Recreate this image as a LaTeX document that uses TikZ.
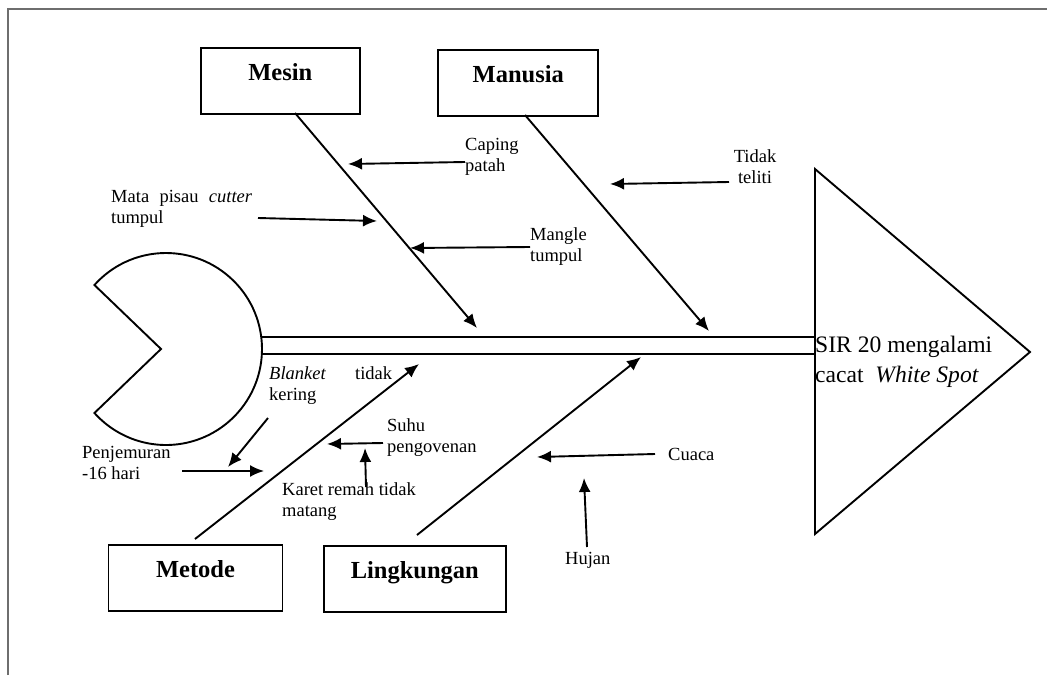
\documentclass[tikz,border=0pt]{standalone}
\usepackage{fontspec}
\setmainfont{Liberation Serif}
\usetikzlibrary{arrows.meta}
\begin{document}
\begin{tikzpicture}[x=1pt,y=-1pt,
  frameline/.style={line width=1.3pt,draw={rgb,255:red,110;green,110;blue,110}},
  bone/.style={line width=1.9pt},
  bonearrow/.style={line width=1.9pt,-{Latex[length=14pt,width=12pt]}},
  causearrow/.style={line width=1.9pt,-{Latex[length=14pt,width=12pt]}},
  catbox/.style={draw,line width=1.9pt,inner sep=0pt,minimum width=#1,
    text height=32.5pt,text depth=33.5pt,anchor=north,
    font=\fontsize{24.5}{28}\selectfont\bfseries},
  lbl/.style={inner sep=0pt,anchor=base west,align=left,
    font=\fontsize{18.5}{21.5}\selectfont},
  lblc/.style={inner sep=0pt,anchor=base,align=center,
    font=\fontsize{18.5}{21.5}\selectfont},
  headtxt/.style={inner sep=0pt,anchor=base west,align=left,
    font=\fontsize{23.6}{30}\selectfont},
]
\useasboundingbox (0,0) rectangle (1047,675);
% outer frame
\draw[frameline] (8,675) -- (8,9) -- (1047,9);

% category boxes
\node[catbox=159pt] (mesin) at (280.3,46.7) {Mesin};
\node[catbox=160pt] (manusia) at (518.3,49.3) {Manusia};
\node[catbox=174pt] (metode) at (195.5,544) {Metode};
\node[catbox=182pt] (lingkungan) at (414.8,545) {Lingkungan};

% head (pacman) of the fish
\coordinate (pc) at (166,349);
\coordinate (mouth) at (161,349);
\draw[bone] (mouth) -- ([shift={(221.8:96)}]pc) arc[start angle=221.8,end angle=498.2,radius=96] -- cycle;

% spine
\coordinate (sa1) at (261,337); \coordinate (sb1) at (815,337);
\coordinate (sa2) at (261.5,354); \coordinate (sb2) at (815,354);
\draw[bone] (sa1) -- (sb1);
\draw[bone] (sa2) -- (sb2);

% effect triangle
\coordinate (t1) at (815,169); \coordinate (t2) at (1030,352); \coordinate (t3) at (815,534);
\draw[bone] (t1) -- (t2) -- (t3) -- cycle;
% (multi-line nodes: base anchor sits on the last line)
\node[headtxt] (effect) at (815,382) {SIR 20 mengalami\\cacat\ \ \textit{White Spot}};

% main bones
\coordinate (mesinS) at (295,113);   \coordinate (mesinT) at (477,328);
\coordinate (manusiaS) at (525,115); \coordinate (manusiaT) at (709,331);
\coordinate (metodeS) at (195,539);  \coordinate (metodeT) at (419,364);
\coordinate (lingS) at (417,535);    \coordinate (lingT) at (641,357);
\draw[bonearrow] (mesinS) -- (mesinT);
\draw[bonearrow] (manusiaS) -- (manusiaT);
\draw[bonearrow] (metodeS) -- (metodeT);
\draw[bonearrow] (lingS) -- (lingT);

% cause labels
\node[lbl] (caping) at (465,171.5) {Caping\\patah};
\node[lbl] (mata) at (111,223.5) {\makebox[141pt][s]{Mata pisau \textit{cutter}}\\tumpul};
\node[lbl] (mangle) at (530,261.5) {Mangle\\tumpul};
\node[lblc] (teliti) at (755,183.5) {Tidak\\teliti};
\node[lbl] (blanket) at (269,400.5) {\makebox[123pt][s]{\textit{Blanket} tidak}\\kering};
\node[lbl] (jemur) at (82,479.5) {Penjemuran\\-16 hari};
\node[lbl] (suhu) at (387,452.5) {Suhu\\pengovenan};
\node[lbl] (karet) at (282,516.5) {Karet remah tidak\\matang};
\node[lbl] (cuaca) at (668,460) {Cuaca};
\node[lbl] (hujan) at (565,564) {Hujan};

% cause arrows
\coordinate (capA) at (465,162);  \coordinate (capB) at (348,164);
\coordinate (mataA) at (258,218); \coordinate (mataB) at (377,221);
\coordinate (manA) at (530,247);  \coordinate (manB) at (410,248);
\coordinate (telA) at (729,182);  \coordinate (telB) at (610,184);
\coordinate (blaA) at (268,418);  \coordinate (blaB) at (228,467);
\coordinate (jemA) at (182,471);  \coordinate (jemB) at (264,471);
\coordinate (suhA) at (383,443);  \coordinate (suhB) at (327,444);
\coordinate (karA) at (366,487);  \coordinate (karB) at (365,448);
\coordinate (cuaA) at (655,454);  \coordinate (cuaB) at (537,457);
\coordinate (hujA) at (587,547);  \coordinate (hujB) at (584,478);
\draw[causearrow] (capA) -- (capB);
\draw[causearrow] (mataA) -- (mataB);
\draw[causearrow] (manA) -- (manB);
\draw[causearrow] (telA) -- (telB);
\draw[causearrow] (blaA) -- (blaB);
\draw[causearrow] (jemA) -- (jemB);
\draw[causearrow] (suhA) -- (suhB);
\draw[causearrow] (karA) -- (karB);
\draw[causearrow] (cuaA) -- (cuaB);
\draw[causearrow] (hujA) -- (hujB);
\end{tikzpicture}
\end{document}
